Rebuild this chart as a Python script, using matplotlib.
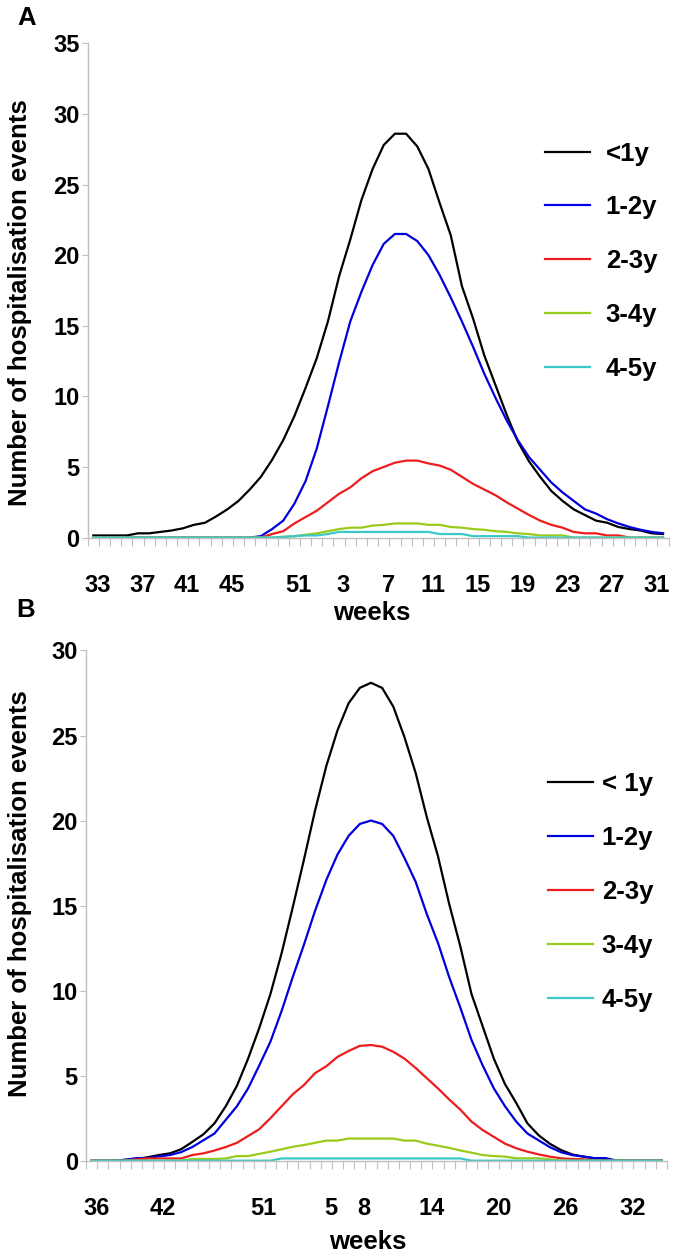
import numpy as np
import matplotlib
matplotlib.use("Agg")
import matplotlib.pyplot as plt
from matplotlib.ticker import FixedLocator

plt.rcParams['font.family'] = ['Liberation Sans', 'DejaVu Sans']
plt.rcParams['font.weight'] = 'bold'

# ---- panel A: weeks 33 .. 32 ----
weeks_a = list(range(33, 53)) + list(range(1, 33))
labelled_a = [33, 37, 41, 45, 51, 3, 7, 11, 15, 19, 23, 27, 31]
legend_a = ['<1y', '1-2y', '2-3y', '3-4y', '4-5y']

under1_a = [0.15, 0.15, 0.15, 0.15, 0.3, 0.3, 0.4, 0.5, 0.65, 0.9,
            1.05, 1.5, 2.0, 2.6, 3.4, 4.3, 5.5, 6.9, 8.6, 10.6,
            12.7, 15.3, 18.5, 21.1, 23.9, 26.1, 27.8, 28.6, 28.6, 27.7,
            26.1, 23.7, 21.4, 17.8, 15.5, 12.9, 10.8, 8.7, 6.8, 5.4,
            4.3, 3.3, 2.6, 2.0, 1.6, 1.2, 1.05, 0.75, 0.6, 0.5,
            0.3, 0.25]
y1_2_a = [0, 0, 0, 0, 0, 0, 0, 0, 0, 0,
          0, 0, 0, 0, 0, 0.1, 0.6, 1.2, 2.4, 4.0,
          6.3, 9.3, 12.4, 15.3, 17.4, 19.3, 20.8, 21.5, 21.5, 21.0,
          20.0, 18.6, 17.0, 15.3, 13.5, 11.6, 9.9, 8.3, 6.9, 5.7,
          4.8, 3.9, 3.2, 2.6, 2.0, 1.7, 1.3, 1.0, 0.75, 0.55,
          0.4, 0.3]
y2_3_a = [0, 0, 0, 0, 0, 0, 0, 0, 0, 0,
          0, 0, 0, 0, 0, 0, 0.25, 0.45, 1.0, 1.45,
          1.9, 2.5, 3.1, 3.55, 4.2, 4.7, 5.0, 5.3, 5.45, 5.45,
          5.25, 5.1, 4.8, 4.3, 3.8, 3.4, 3.0, 2.5, 2.05, 1.6,
          1.2, 0.9, 0.7, 0.4, 0.3, 0.3, 0.15, 0.15, 0, 0,
          0, 0]
y3_4_a = [0, 0, 0, 0, 0, 0, 0, 0, 0, 0,
          0, 0, 0, 0, 0, 0, 0, 0.05, 0.1, 0.2,
          0.3, 0.45, 0.6, 0.7, 0.7, 0.85, 0.9, 1.0, 1.0, 1.0,
          0.9, 0.9, 0.75, 0.7, 0.6, 0.55, 0.45, 0.4, 0.3, 0.25,
          0.15, 0.15, 0.15, 0, 0, 0, 0, 0, 0, 0,
          0, 0]
y4_5_a = [0, 0, 0, 0, 0, 0, 0, 0, 0, 0,
          0, 0, 0, 0, 0, 0, 0, 0.05, 0.1, 0.15,
          0.15, 0.25, 0.4, 0.4, 0.4, 0.4, 0.4, 0.4, 0.4, 0.4,
          0.4, 0.25, 0.25, 0.25, 0.1, 0.1, 0.1, 0.1, 0.1, 0,
          0, 0, 0, 0, 0, 0, 0, 0, 0, 0,
          0, 0]

# ---- panel B: weeks 36 .. 35 ----
weeks_b = list(range(36, 53)) + list(range(1, 36))
labelled_b = [36, 42, 51, 5, 8, 14, 20, 26, 32]
legend_b = ['< 1y', '1-2y', '2-3y', '3-4y', '4-5y']

under1_b = [0, 0, 0, 0.05, 0.1, 0.2, 0.33, 0.43, 0.67, 1.1,
            1.55, 2.2, 3.2, 4.4, 6.0, 7.8, 9.8, 12.2, 14.9, 17.7,
            20.6, 23.2, 25.3, 26.9, 27.8, 28.1, 27.8, 26.7, 24.9, 22.8,
            20.2, 17.9, 15.1, 12.6, 9.8, 7.9, 6.0, 4.5, 3.4, 2.2,
            1.5, 1.0, 0.63, 0.37, 0.24, 0.14, 0.1, 0, 0, 0,
            0, 0]
y1_2_b = [0, 0, 0, 0.05, 0.15, 0.15, 0.25, 0.33, 0.5, 0.8,
          1.2, 1.6, 2.4, 3.2, 4.25, 5.6, 7.0, 8.8, 10.8, 12.7,
          14.7, 16.5, 18.0, 19.1, 19.8, 20.0, 19.8, 19.1, 17.8, 16.4,
          14.5, 12.8, 10.8, 9.0, 7.1, 5.6, 4.25, 3.2, 2.3, 1.6,
          1.2, 0.8, 0.5, 0.33, 0.24, 0.15, 0.15, 0, 0, 0,
          0, 0]
y2_3_b = [0, 0, 0, 0, 0.08, 0.13, 0.13, 0.13, 0.13, 0.33,
          0.43, 0.6, 0.8, 1.05, 1.45, 1.85, 2.5, 3.2, 3.9, 4.45,
          5.15, 5.55, 6.1, 6.45, 6.75, 6.8, 6.7, 6.4, 6.0, 5.45,
          4.85, 4.25, 3.6, 3.0, 2.3, 1.8, 1.4, 1.0, 0.73, 0.53,
          0.37, 0.24, 0.14, 0.1, 0.08, 0, 0, 0, 0, 0,
          0, 0]
y3_4_b = [0, 0, 0, 0, 0, 0, 0, 0, 0, 0.1,
          0.1, 0.1, 0.13, 0.27, 0.27, 0.4, 0.53, 0.67, 0.82, 0.92,
          1.05, 1.18, 1.18, 1.3, 1.3, 1.3, 1.3, 1.3, 1.18, 1.18,
          1.0, 0.88, 0.75, 0.6, 0.47, 0.33, 0.27, 0.24, 0.14, 0.14,
          0.14, 0.08, 0, 0, 0, 0, 0, 0, 0, 0,
          0, 0]
y4_5_b = [0, 0, 0, 0, 0, 0, 0, 0, 0, 0,
          0, 0, 0, 0, 0, 0, 0, 0.13, 0.13, 0.13,
          0.13, 0.13, 0.13, 0.13, 0.13, 0.13, 0.13, 0.13, 0.13, 0.13,
          0.13, 0.13, 0.13, 0.13, 0, 0, 0, 0, 0, 0,
          0, 0, 0, 0, 0, 0, 0, 0, 0, 0,
          0, 0]

colors = ['black', '#0000DD', '#EE1C1C', '#99CC1A', '#3CC8C8']
axis_grey = '#BFBFBF'


def draw_panel(ax, weeks, labelled, series, labels, ymax, legend_xy, text_pad):
    x = np.arange(len(weeks))
    for values, color, label in zip(series, colors, labels):
        ax.plot(x, values, color=color, lw=1.6, label=label)

    ax.set_xlim(-0.5, len(weeks) - 0.5)
    ax.set_ylim(0, ymax)

    for side in ('top', 'right'):
        ax.spines[side].set_visible(False)
    for side in ('left', 'bottom'):
        ax.spines[side].set_color(axis_grey)
        ax.spines[side].set_linewidth(1.0)

    # labels sit inside the week slot, tick marks on slot boundaries
    ax.xaxis.set_major_locator(FixedLocator([weeks.index(w) + 0.4 for w in labelled]))
    ax.set_xticklabels([str(w) for w in labelled])
    ax.xaxis.set_minor_locator(FixedLocator(np.arange(-0.5, len(weeks), 1.0)))
    ax.tick_params(axis='x', which='major', length=0, pad=26, labelsize=17)
    ax.tick_params(axis='x', which='minor', length=5.8, width=0.8,
                   color=axis_grey, direction='out')

    ax.set_yticks(np.arange(0, ymax + 1, 5))
    ax.tick_params(axis='y', length=4, width=0.8, color=axis_grey,
                   pad=2, labelsize=17)

    ax.legend(loc='upper left', bbox_to_anchor=legend_xy, frameon=False,
              fontsize=18.5, handlelength=1.75, handletextpad=text_pad,
              labelspacing=1.16, borderpad=0, borderaxespad=0)


fig = plt.figure(figsize=(6.77, 12.56), dpi=100)

ax_a = fig.add_axes([0.1296, 0.572, 0.858, 0.3935])
draw_panel(ax_a, weeks_a, labelled_a,
           [under1_a, y1_2_a, y2_3_a, y3_4_a, y4_5_a], legend_a, 35,
           (0.787, 0.801), 0.62)

ax_b = fig.add_axes([0.1272, 0.0759, 0.858, 0.4062])
draw_panel(ax_b, weeks_b, labelled_b,
           [under1_b, y1_2_b, y2_3_b, y3_4_b, y4_5_b], legend_b, 30,
           (0.796, 0.761), 0.32)

ylab = 'Number of hospitalisation events'
fig.text(20 / 677, 1 - 303 / 1256, ylab, rotation=90, ha='center',
         va='center', fontsize=18.5)
fig.text(20 / 677, 1 - 894 / 1256, ylab, rotation=90, ha='center',
         va='center', fontsize=18.5)

fig.text(372 / 677, 1 - 613 / 1256, 'weeks', ha='center', va='center',
         fontsize=18.5)
fig.text(368 / 677, 1 - 1242 / 1256, 'weeks', ha='center', va='center',
         fontsize=18.5)

fig.text(27 / 677, 1 - 18 / 1256, 'A', ha='center', va='center', fontsize=18.5)
fig.text(26 / 677, 1 - 610 / 1256, 'B', ha='center', va='center', fontsize=18.5)

fig.savefig('out.png', dpi=100)
